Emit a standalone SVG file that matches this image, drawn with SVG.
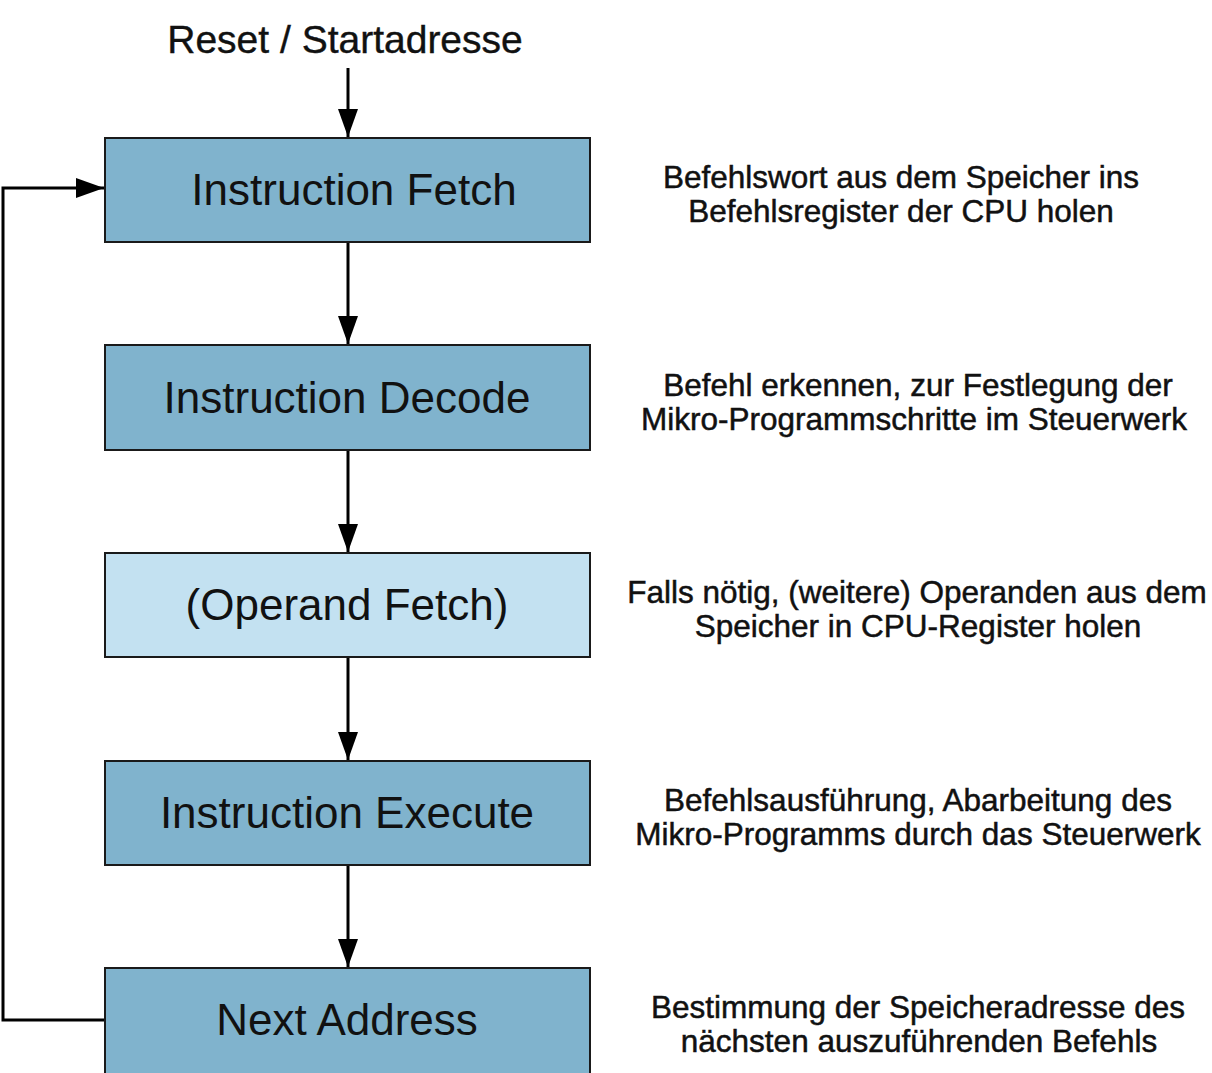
<svg xmlns="http://www.w3.org/2000/svg" width="1212" height="1073" viewBox="0 0 1212 1073">
<style>
.box{stroke:#1a1a1a;stroke-width:2}
.dark{fill:#80b3cd}
.light{fill:#c3e1f1}
.lbl{font-family:"Liberation Sans",Arial,sans-serif;font-size:44px;fill:#111;text-anchor:middle}
.note{font-family:"Liberation Sans",Arial,sans-serif;font-size:31.5px;fill:#111;text-anchor:middle;stroke:#111;stroke-width:0.5}
.title{font-family:"Liberation Sans",Arial,sans-serif;font-size:39px;fill:#111;text-anchor:middle;stroke:#111;stroke-width:0.4}
.con{stroke:#000;stroke-width:3;fill:none}
</style>
<defs>
<marker id="ah" markerWidth="28" markerHeight="20" refX="28" refY="10" viewBox="0 0 28 20" orient="auto" markerUnits="userSpaceOnUse">
<path d="M0,0 L28,10 L0,20 z" fill="#000"/>
</marker>
</defs>
<text class="title" x="345" y="53">Reset / Startadresse</text>
<g id="connectors">
<line class="con" x1="348" y1="68" x2="348" y2="137" marker-end="url(#ah)"/>
<line class="con" x1="348" y1="242" x2="348" y2="344" marker-end="url(#ah)"/>
<line class="con" x1="348" y1="450" x2="348" y2="552" marker-end="url(#ah)"/>
<line class="con" x1="348" y1="657" x2="348" y2="760" marker-end="url(#ah)"/>
<line class="con" x1="348" y1="865" x2="348" y2="967" marker-end="url(#ah)"/>
<polyline class="con" points="105,1020 3,1020 3,188 104,188" marker-end="url(#ah)"/>
</g>
<g id="n1"><rect class="box dark" x="105" y="138" width="485" height="104"/><text class="lbl" x="354" y="205">Instruction Fetch</text></g>
<g id="n2"><rect class="box dark" x="105" y="345" width="485" height="105"/><text class="lbl" x="347" y="413">Instruction Decode</text></g>
<g id="n3"><rect class="box light" x="105" y="553" width="485" height="104"/><text class="lbl" x="347" y="620">(Operand Fetch)</text></g>
<g id="n4"><rect class="box dark" x="105" y="761" width="485" height="104"/><text class="lbl" x="347" y="828">Instruction Execute</text></g>
<g id="n5"><rect class="box dark" x="105" y="968" width="485" height="110"/><text class="lbl" x="347" y="1035">Next Address</text></g>
<g id="notes">
<text class="note" x="901" y="188">Befehlswort aus dem Speicher ins</text>
<text class="note" x="901" y="222">Befehlsregister der CPU holen</text>
<text class="note" x="918" y="396">Befehl erkennen, zur Festlegung der</text>
<text class="note" x="914" y="430">Mikro-Programmschritte im Steuerwerk</text>
<text class="note" x="917" y="603">Falls nötig, (weitere) Operanden aus dem</text>
<text class="note" x="918" y="637">Speicher in CPU-Register holen</text>
<text class="note" x="918" y="811">Befehlsausführung, Abarbeitung des</text>
<text class="note" x="918" y="845">Mikro-Programms durch das Steuerwerk</text>
<text class="note" x="918" y="1018">Bestimmung der Speicheradresse des</text>
<text class="note" x="919" y="1052">nächsten auszuführenden Befehls</text>
</g>
</svg>
